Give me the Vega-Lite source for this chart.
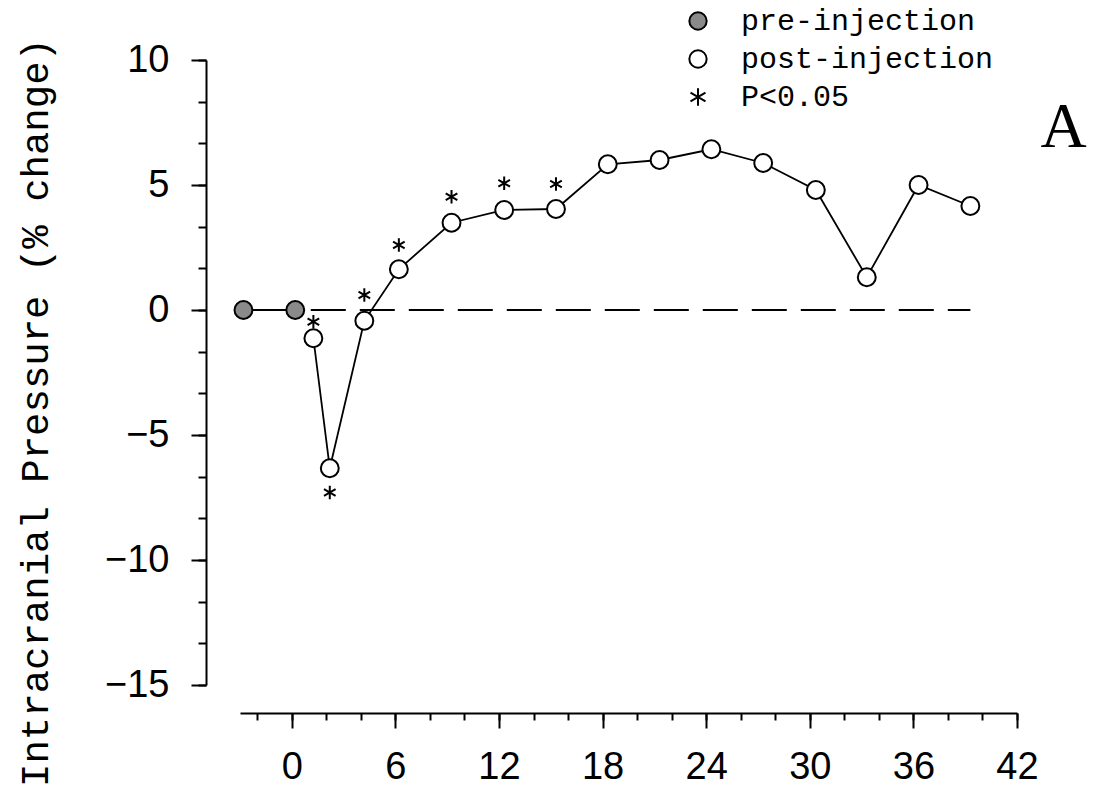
{
  "$schema": "https://vega.github.io/schema/vega-lite/v6.json",
  "width": 777,
  "height": 625,
  "autosize": "none",
  "padding": {"left": 240, "top": 60, "right": 77, "bottom": 117},
  "background": "white",
  "config": {"view": {"stroke": null}, "axis": {"labelOverlap": false, "grid": false, "domainColor": "black", "domainWidth": 2, "tickColor": "black", "tickWidth": 2, "labelFont": "Liberation Sans", "labelFontSize": 38, "labelColor": "black", "labelFlush": false}},
  "resolve": {"axis": {"x": "independent", "y": "independent"}},
  "datasets": {
    "points": [
      {"t": -2.8, "v": 0, "series": "pre-injection"},
      {"t": 0.2, "v": 0, "series": "pre-injection"},
      {"t": 1.25, "v": -1.13, "series": "post-injection"},
      {"t": 2.2, "v": -6.33, "series": "post-injection"},
      {"t": 4.2, "v": -0.43, "series": "post-injection"},
      {"t": 6.2, "v": 1.63, "series": "post-injection"},
      {"t": 9.25, "v": 3.49, "series": "post-injection"},
      {"t": 12.3, "v": 4.0, "series": "post-injection"},
      {"t": 15.3, "v": 4.04, "series": "post-injection"},
      {"t": 18.3, "v": 5.83, "series": "post-injection"},
      {"t": 21.3, "v": 6.0, "series": "post-injection"},
      {"t": 24.3, "v": 6.43, "series": "post-injection"},
      {"t": 27.3, "v": 5.88, "series": "post-injection"},
      {"t": 30.35, "v": 4.8, "series": "post-injection"},
      {"t": 33.3, "v": 1.31, "series": "post-injection"},
      {"t": 36.3, "v": 5.0, "series": "post-injection"},
      {"t": 39.3, "v": 4.16, "series": "post-injection"}
    ],
    "stars": [
      {"t": 1.25, "star": -0.47, "series": "P<0.05"},
      {"t": 2.2, "star": -7.3, "series": "P<0.05"},
      {"t": 4.2, "star": 0.6, "series": "P<0.05"},
      {"t": 6.2, "star": 2.6, "series": "P<0.05"},
      {"t": 9.25, "star": 4.53, "series": "P<0.05"},
      {"t": 12.3, "star": 5.07, "series": "P<0.05"},
      {"t": 15.3, "star": 5.04, "series": "P<0.05"}
    ],
    "baseline": [{"t0": 1.1, "t1": 39.3, "v": 0}],
    "panel": [{"t": 44.7, "v": 6.52, "label": "A"}]
  },
  "layer": [
    {
      "data": {"name": "baseline"},
      "mark": {"type": "rule", "color": "black", "strokeWidth": 1.8, "strokeDash": [35, 14]},
      "encoding": {
        "x": {"field": "t0", "type": "quantitative", "scale": {"domain": [-3, 42], "nice": false, "zero": false},
          "axis": {
            "orient": "bottom",
            "values": [0, 6, 12, 18, 24, 30, 36, 42],
            "tickSize": 15,
            "offset": 28,
            "title": null,
            "labelPadding": 20
          }},
        "x2": {"field": "t1"},
        "y": {"field": "v", "type": "quantitative", "scale": {"domain": [-15, 10], "nice": false, "zero": false},
          "axis": {
            "orient": "left",
            "values": [-15, -10, -5, 0, 5, 10],
            "tickSize": 15,
            "offset": 34,
            "title": "Intracranial Pressure (% change)",
            "titleFont": "Liberation Mono", "titleFontSize": 39, "titleFontWeight": "normal", "titleColor": "black",
            "titleX": -159, "titleY": 352, "titleBaseline": "alphabetic", "titleAngle": 270,
            "labelPadding": 22
          }}
      }
    },
    {
      "data": {"name": "points"},
      "mark": {"type": "line", "color": "black", "strokeWidth": 1.8},
      "encoding": {
        "x": {"field": "t", "type": "quantitative",
          "axis": {
            "orient": "bottom",
            "values": [-2, 0, 2, 4, 6, 8, 10, 12, 14, 16, 18, 20, 22, 24, 26, 28, 30, 32, 34, 36, 38, 40, 42],
            "tickSize": 7, "labels": false, "domain": false, "offset": 28, "title": null
          }},
        "y": {"field": "v", "type": "quantitative",
          "axis": {
            "orient": "left",
            "values": [-15, -13.3333, -11.6667, -10, -8.3333, -6.6667, -5, -3.3333, -1.6667, 0, 1.6667, 3.3333, 5, 6.6667, 8.3333, 10],
            "tickSize": 8, "labels": false, "domain": false, "offset": 34, "title": null
          }},
        "detail": {"field": "series"}
      }
    },
    {
      "data": {"name": "points"},
      "mark": {"type": "point", "size": 320, "strokeWidth": 2, "opacity": 1, "fillOpacity": 1},
      "encoding": {
        "x": {"field": "t", "type": "quantitative", "axis": null},
        "y": {"field": "v", "type": "quantitative", "axis": null},
        "shape": {"field": "series", "type": "nominal",
          "scale": {"domain": ["pre-injection", "post-injection", "P<0.05"], "range": ["circle", "circle", "M0,-1L0,1M-0.866,-0.5L0.866,0.5M-0.866,0.5L0.866,-0.5"]},
          "legend": {"title": null, "orient": "none", "legendX": 443, "legendY": -54, "labelFont": "Liberation Mono", "labelFontSize": 30, "labelColor": "black", "symbolSize": 300, "symbolStrokeWidth": 2, "rowPadding": 8, "labelOffset": 28, "padding": 0, "labelLimit": 0}},
        "fill": {"field": "series", "type": "nominal",
          "scale": {"domain": ["pre-injection", "post-injection", "P<0.05"], "range": ["#8a8a8a", "#ffffff", "transparent"]},
          "legend": {"title": null, "orient": "none", "legendX": 443, "legendY": -54, "labelFont": "Liberation Mono", "labelFontSize": 30, "labelColor": "black", "symbolSize": 300, "symbolStrokeWidth": 2, "rowPadding": 8, "labelOffset": 28, "padding": 0, "labelLimit": 0}},
        "stroke": {"field": "series", "type": "nominal",
          "scale": {"domain": ["pre-injection", "post-injection", "P<0.05"], "range": ["#000000", "#000000", "#000000"]},
          "legend": {"title": null, "orient": "none", "legendX": 443, "legendY": -54, "labelFont": "Liberation Mono", "labelFontSize": 30, "labelColor": "black", "symbolSize": 300, "symbolStrokeWidth": 2, "rowPadding": 8, "labelOffset": 28, "padding": 0, "labelLimit": 0}}
      }
    },
    {
      "data": {"name": "stars"},
      "mark": {"type": "point", "size": 180, "strokeWidth": 2, "opacity": 1},
      "encoding": {
        "x": {"field": "t", "type": "quantitative", "axis": null},
        "y": {"field": "star", "type": "quantitative", "axis": null},
        "shape": {"field": "series", "type": "nominal"},
        "fill": {"field": "series", "type": "nominal"},
        "stroke": {"field": "series", "type": "nominal"}
      }
    },
    {
      "data": {"name": "panel"},
      "mark": {"type": "text", "font": "Liberation Serif", "fontSize": 64, "color": "black", "align": "center", "baseline": "alphabetic"},
      "encoding": {
        "x": {"field": "t", "type": "quantitative", "axis": null},
        "y": {"field": "v", "type": "quantitative", "axis": null},
        "text": {"field": "label"}
      }
    }
  ]
}
